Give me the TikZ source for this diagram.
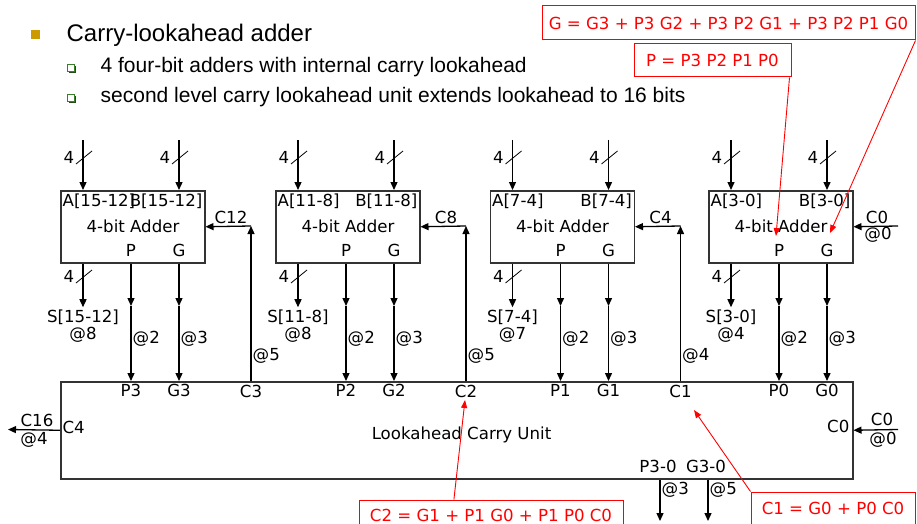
\documentclass[tikz,border=0pt]{standalone}
\usepackage{fontspec}
\setmainfont{Liberation Sans}
\newfontfamily\diagfont{DejaVu Sans}
\usetikzlibrary{arrows.meta, positioning, calc}
\definecolor{bulletgold}{RGB}{204,153,0}
\definecolor{bulletgreen}{RGB}{56,128,40}
\definecolor{boxgray}{RGB}{51,51,51}

\begin{document}
\begin{tikzpicture}[
  x=1pt, y=-1pt,
  font=\diagfont\fontsize{16.6}{19}\selectfont,
  >={Triangle[length=8pt, width=7pt]},
  line width=1.3pt,
  unit/.style={draw=boxgray, line width=1.5pt, inner sep=0pt, anchor=north west},
  lbl/.style={inner sep=0pt},
  subpt/.style={lbl, anchor=base west, font=\rmfamily\fontsize{21}{25}\selectfont},
  eqn/.style={draw=red, text=red, line width=1pt, inner sep=0pt},
  note/.style={red, line width=0.9pt, -{Triangle[length=8pt, width=6pt]}},
  bus/.pic={\draw[line width=0.8pt] (-7,7) -- (9,-6); \node[lbl] at (-14,0) {4};}
]
\useasboundingbox (0,0) rectangle (917,524);
% slide heading with its two sub-points
\node[fill=bulletgold, minimum size=9pt, inner sep=0pt] (blt0) at (35,35) {};
\node[lbl, anchor=base west, font=\rmfamily\fontsize{24}{28}\selectfont] (title) at (66,42) {Carry-lookahead adder};
\fill[bulletgreen!60!black] (69,66) rectangle (76,73);
\node[draw=bulletgreen, fill=white, line width=1pt, minimum size=7pt, inner sep=0pt] (blt1) at (71,68) {};
\node[subpt] (pt1) at (100,73) {4 four-bit adders with internal carry lookahead};
\fill[bulletgreen!60!black] (69,96) rectangle (76,103);
\node[draw=bulletgreen, fill=white, line width=1pt, minimum size=7pt, inner sep=0pt] (blt2) at (71,98) {};
\node[subpt] (pt2) at (100,102.5) {second level carry lookahead unit extends lookahead to 16 bits};

% second level unit along the bottom
\node[unit, minimum width=792pt, minimum height=97pt] (clu) at (60,381) {};
\node[lbl, anchor=base] (cluname) at (461.5,439) {Lookahead Carry Unit};
\coordinate (mid) at (0,306);

% the four 4-bit adders, left to right = high to low
\foreach \k/\L/\rng/\sd in {3/60/15-12/8, 2/275/11-8/8, 1/489.5/7-4/7, 0/708/3-0/4} {
  \node[unit, minimum width=144pt, minimum height=72pt] (add\k) at (\L,190) {};
  \node[lbl, anchor=base west] (a\k) at (\L+2,206) {A[\rng]};
  \node[lbl, anchor=base east] (b\k) at (\L+143,206) {B[\rng]};
  \node[lbl, anchor=base] (name\k) at (\L+73,232) {4-bit Adder};
  \node[lbl, anchor=base] (pa\k) at (\L+71,256.5) {P};
  \node[lbl, anchor=base] (ga\k) at (\L+119,256.5) {G};
  \coordinate (ain\k) at (\L+23,140);
  \coordinate (bin\k) at (\L+119,140);
  \draw[->] (ain\k) -- (ain\k |- add\k.north);
  \draw[->] (bin\k) -- (bin\k |- add\k.north);
  \pic at (\L+23,157) {bus};
  \pic at (\L+119,157) {bus};
  % sum bits out
  \node[lbl, anchor=base] (s\k) at (\L+23,322.5) {S[\rng]};
  \node[lbl, anchor=base] at (\L+23,339) {@\sd};
  \draw[->] (ain\k |- add\k.south) -- ([yshift=2pt]s\k.north);
  \pic at (\L+23,276) {bus};
  % group P and G down to the unit
  \node[lbl, anchor=base] (p\k) at (\L+71,396.5) {P\k};
  \node[lbl, anchor=base] (g\k) at (\L+119,396.5) {G\k};
  \draw[->] (pa\k |- add\k.south) -- (pa\k |- mid);
  \draw[->] (pa\k |- mid) -- (p\k |- clu.north);
  \draw[->] (ga\k |- add\k.south) -- (ga\k |- mid);
  \draw[->] (ga\k |- mid) -- (g\k |- clu.north);
  \node[lbl, anchor=base west] at (\L+72,343) {@2};
  \node[lbl, anchor=base west] at (\L+120,343) {@3};
}

% carries back up into adders 3..1
\foreach \k/\L/\cn/\cd in {3/60/12/5, 2/275/8/5, 1/489.5/4/4} {
  \coordinate (cin\k) at (\L+191,226);
  \node[lbl, anchor=base] (c\k) at (\L+191,397) {C\k};
  \draw[->] (cin\k |- clu.north) -- (cin\k);
  \draw[->] (cin\k) -- (add\k.east);
  \node[lbl, anchor=base] at (\L+171,223) {C\cn};
  \node[lbl, anchor=base west] at (\L+192,360) {@\cd};
}

% carry in to the lowest adder
\coordinate (c0in) at (898,226);
\draw[->] (c0in) -- (add0.east);
\node[lbl, anchor=base] at (877,223) {C0};
\node[lbl, anchor=base] at (878,239) {@0};

% unit side pins
\node[lbl, anchor=base west] (c4) at (62,433) {C4};
\coordinate (c16) at (8,429.5);
\draw[->] (clu.west) -- (c16);
\node[lbl, anchor=base] at (37,426.5) {C16};
\node[lbl, anchor=base] at (34,444) {@4};
\node[lbl, anchor=base east] (c0) at (850,432.5) {C0};
\coordinate (c0src) at (898,429.5);
\draw[->] (c0src) -- (clu.east);
\node[lbl, anchor=base] at (882,425) {C0};
\node[lbl, anchor=base] at (883,444) {@0};

% group outputs
\node[lbl, anchor=base] (p30) at (658,472.5) {P3-0};
\node[lbl, anchor=base] (g30) at (706,472.5) {G3-0};
\coordinate (pout) at (660,521);
\coordinate (gout) at (708,521);
\draw[->] (pout |- clu.south) -- (pout);
\draw[->] (gout |- clu.south) -- (gout);
\node[lbl, anchor=base west] at (661,494) {@3};
\node[lbl, anchor=base west] at (709,494) {@5};

% red call-outs with the equations
\node[eqn, minimum width=373pt, minimum height=34pt] (geq) at (728.5,23) {G = G3 + P3 G2 + P3 P2 G1 + P3 P2 P1 G0};
\node[eqn, minimum width=157pt, minimum height=33pt] (peq) at (712.5,60.5) {P = P3 P2 P1 P0};
\node[eqn, minimum width=264pt, minimum height=30pt] (c2eq) at (491,515) {C2 = G1 + P1 G0 + P1 P0 C0};
\node[eqn, minimum width=164pt, minimum height=32pt] (c1eq) at (833,508) {C1 = G0 + P0 C0};
\coordinate (ptip) at (776,236);
\coordinate (gtip) at (830,233);
\coordinate (c2tip) at (465,400);
\coordinate (c1tip) at (694,410);
\draw[note] ([xshift=-2pt]peq.south east) -- (ptip);
\draw[note] (geq.south east) -- (gtip);
\draw[note] ($(c2eq.north west)!0.36!(c2eq.north east)$) -- (c2tip);
\draw[note] (c1eq.north west) -- (c1tip);
\end{tikzpicture}
\end{document}
